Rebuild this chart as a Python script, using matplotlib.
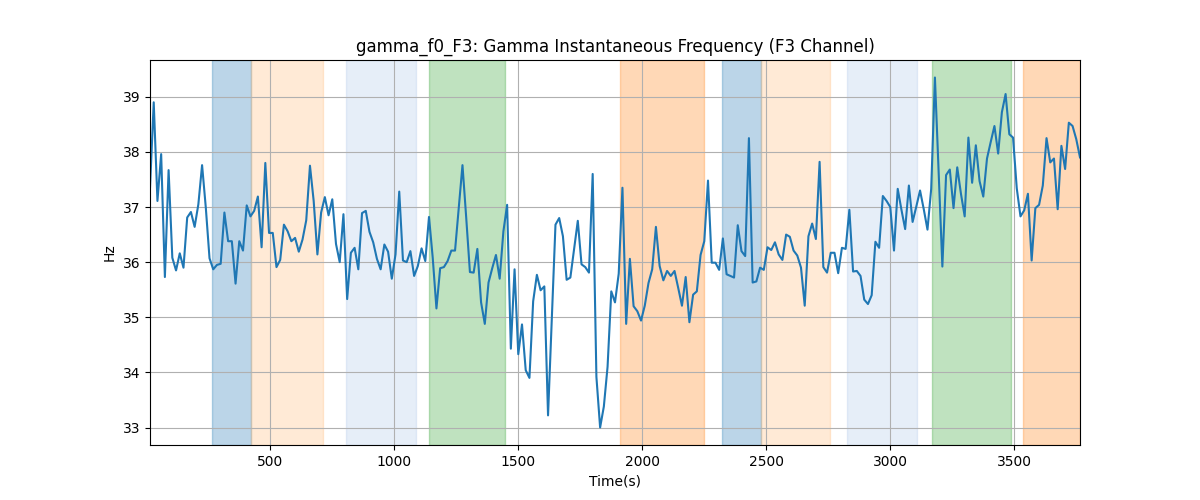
import matplotlib
matplotlib.use("Agg")
import matplotlib.pyplot as plt
import numpy as np

# sampling: one value every 15 s
t_start = 15
t_step = 15

freq_hz = [
    37.35, 38.90, 37.11, 37.96, 35.73, 37.67, 36.08, 35.85, 36.16, 35.90,
    36.81, 36.91, 36.64, 37.05, 37.76, 36.99, 36.07, 35.87, 35.95, 35.97,
    36.90, 36.38, 36.38, 35.61, 36.38, 36.21, 37.03, 36.83, 36.93, 37.19,
    36.27, 37.80, 36.53, 36.53, 35.91, 36.04, 36.68, 36.56, 36.38, 36.44,
    36.19, 36.41, 36.76,
    37.75, 37.11, 36.14, 36.90, 37.18, 36.85, 37.14, 36.33, 36.00, 36.87,
    35.33, 36.17, 36.26, 35.87, 36.89, 36.93, 36.55, 36.36, 36.06, 35.87,
    36.32, 36.19, 35.70, 36.14, 37.28, 36.03, 36.00, 36.20, 35.75, 35.93,
    36.25, 36.02, 36.82, 36.08, 35.16, 35.89, 35.91, 36.02, 36.21,
    36.21, 36.99, 37.76, 36.81, 35.82, 35.81, 36.24, 35.27, 34.88, 35.63,
    35.89, 36.13, 35.70, 36.56, 37.04, 34.43, 35.87, 34.33, 34.87, 34.04,
    33.90, 35.29, 35.77, 35.49, 35.56, 33.22, 34.94, 36.68, 36.80, 36.47,
    35.68, 35.72, 36.23, 36.75, 35.96, 35.91, 35.81, 37.60, 33.92, 33.00,
    33.38,
    34.10, 35.47, 35.27, 35.79, 37.35, 34.88, 36.06, 35.20, 35.11, 34.94,
    35.21, 35.62, 35.87, 36.64, 35.93, 35.67, 35.84, 35.75, 35.84, 35.53,
    35.21, 35.73, 34.91, 35.41, 35.47, 36.13, 36.38, 37.48, 35.99, 35.99,
    35.86, 36.43, 35.78, 35.75, 35.72, 36.67, 36.20, 36.11, 38.25, 35.63,
    35.65,
    35.90, 35.86, 36.27, 36.22, 36.36, 36.14, 36.04, 36.50, 36.46, 36.21,
    36.12, 35.90, 35.21, 36.47, 36.70, 36.42, 37.82, 35.91, 35.81, 36.17,
    36.17, 35.80, 36.26, 36.24, 36.95, 35.83, 35.84, 35.75, 35.32, 35.24,
    35.40, 36.37, 36.26, 37.20, 37.11, 37.00, 36.21, 37.33, 36.95, 36.60,
    37.39, 36.73,
    37.01, 37.30, 36.96, 36.59, 37.33, 39.35, 37.66, 35.92, 37.58, 37.68,
    36.98, 37.72, 37.24, 36.83, 38.26, 37.44, 38.12, 37.47, 37.19, 37.88,
    38.18, 38.47, 37.97, 38.72, 39.05, 38.32, 38.26, 37.34, 36.83, 36.94,
    37.24, 36.03, 36.98, 37.04, 37.39, 38.25, 37.81, 37.88, 36.96, 38.11,
    37.69, 38.53, 38.47, 38.23, 37.90,
]

times = t_start + t_step * np.arange(len(freq_hz))

# shaded segments (start, end, colour, alpha)
span_starts = [265, 422, 805, 1139, 1910, 2321, 2478, 2825, 3168, 3535]
span_ends = [422, 711, 1087, 1445, 2249, 2478, 2756, 3106, 3485, 3765]
span_colors = ['#1f77b4', '#ffbb78', '#aec7e8', '#2ca02c', '#ff7f0e',
               '#1f77b4', '#ffbb78', '#aec7e8', '#2ca02c', '#ff7f0e']
span_alphas = [0.3, 0.3, 0.3, 0.3, 0.3, 0.3, 0.3, 0.3, 0.3, 0.3]

fig, ax = plt.subplots(figsize=(12, 5), dpi=100)

for s, e, c, a in zip(span_starts, span_ends, span_colors, span_alphas):
    ax.axvspan(s, e, color=c, alpha=a)

ax.plot(times, freq_hz, color='#1f77b4', linewidth=1.5)

ax.set_xlim(times[0], times[-1])
ax.set_title('gamma_f0_F3: Gamma Instantaneous Frequency (F3 Channel)')
ax.set_xlabel('Time(s)')
ax.set_ylabel('Hz')
ax.grid(True)

fig.savefig('out.png')
